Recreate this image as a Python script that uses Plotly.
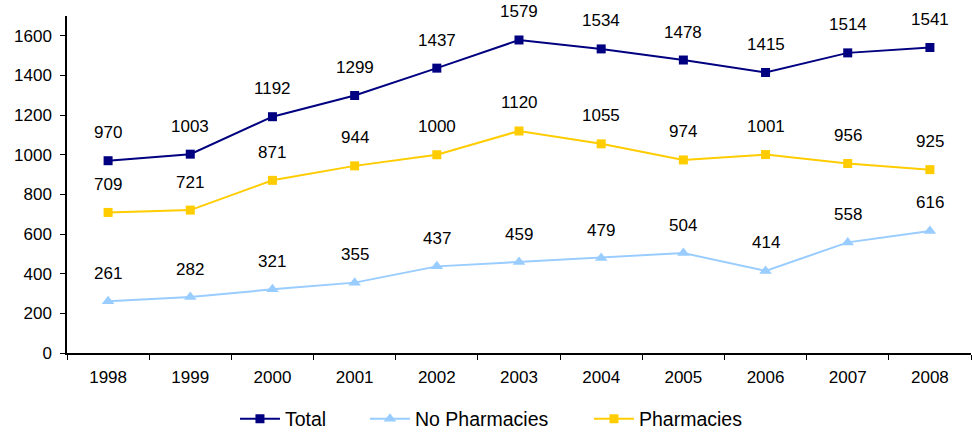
import plotly.graph_objects as go

years = ["1998", "1999", "2000", "2001", "2002", "2003", "2004", "2005", "2006", "2007", "2008"]
total = [970, 1003, 1192, 1299, 1437, 1579, 1534, 1478, 1415, 1514, 1541]
no_pharmacies = [261, 282, 321, 355, 437, 459, 479, 504, 414, 558, 616]
pharmacies = [709, 721, 871, 944, 1000, 1120, 1055, 974, 1001, 956, 925]

# name, values, colour, marker symbol, marker size, legend id, legend left (paper x)
series = [
    ("Total", total, "#000080", "square", 9, "legend", 0.1858),
    ("No Pharmacies", no_pharmacies, "#99CCFF", "triangle-up", 11, "legend2", 0.3296),
    ("Pharmacies", pharmacies, "#FFCC00", "square", 9, "legend3", 0.5774),
]

FONT = "Liberation Sans, Arial"

fig = go.Figure()
annotations = []
legends = {}
for name, vals, color, symbol, size, leg, lx in series:
    fig.add_trace(go.Scatter(
        x=years, y=vals, name=name, mode="lines+markers", legend=leg,
        line=dict(color=color, width=2),
        marker=dict(color=color, symbol=symbol, size=size),
    ))
    legends[leg] = dict(
        orientation="h", x=lx, xanchor="left",
        yref="container", y=0.032, yanchor="middle",
        font=dict(size=19.5), itemwidth=40, bgcolor="rgba(0,0,0,0)",
    )
    # value labels above each point (category index used as x position)
    for i, v in enumerate(vals):
        annotations.append(dict(
            x=i, y=v, xref="x", yref="y", text=str(v), showarrow=False, yshift=28,
            font=dict(family=FONT, size=17, color="#000000"),
        ))

fig.update_layout(
    width=972, height=433,
    margin=dict(l=67, r=1, t=16, b=80),
    paper_bgcolor="white", plot_bgcolor="white",
    font=dict(family=FONT, size=17, color="#000000"),
    annotations=annotations,
    showlegend=True,
    **legends,
    xaxis=dict(
        type="category", range=[-0.5, 10.5],
        showline=True, linecolor="black", linewidth=1.5,
        ticks="outside", ticklen=5, tickcolor="black", tickson="boundaries",
        showgrid=False, zeroline=False, ticklabelstandoff=8,
        tickfont=dict(size=17),
    ),
    yaxis=dict(
        range=[0, 1700], dtick=200, tick0=0,
        showline=True, linecolor="black", linewidth=1.5,
        ticks="outside", ticklen=5, tickcolor="black",
        showgrid=False, zeroline=False, ticklabelstandoff=5,
        tickfont=dict(size=17),
    ),
)

fig.write_html("out.html")
